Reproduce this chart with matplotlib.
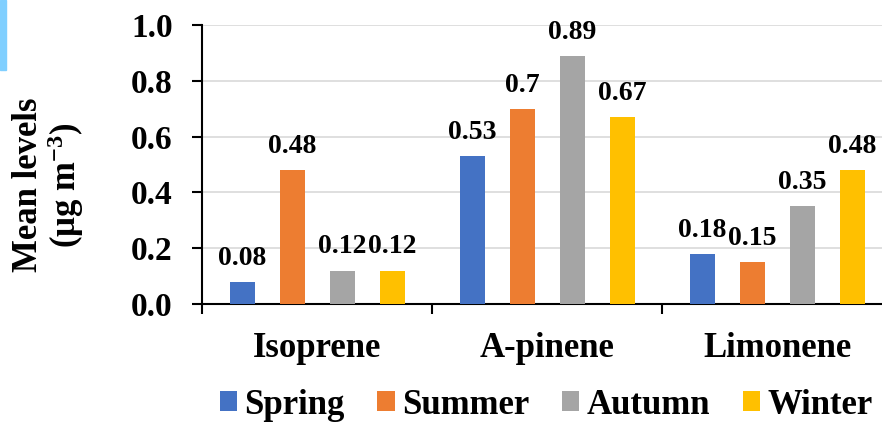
import matplotlib
matplotlib.use("Agg")
import matplotlib.pyplot as plt
import numpy as np
from matplotlib.patches import Rectangle

plt.rcParams['font.family'] = ['Liberation Serif', 'DejaVu Serif']
plt.rcParams['font.weight'] = 'bold'
plt.rcParams['mathtext.fontset'] = 'custom'
plt.rcParams['mathtext.rm'] = 'Liberation Serif:bold'
plt.rcParams['mathtext.default'] = 'rm'

categories = ["Isoprene", "A-pinene", "Limonene"]
seasons = ["Spring", "Summer", "Autumn", "Winter"]
spring = [0.08, 0.53, 0.18]
summer = [0.48, 0.70, 0.15]
autumn = [0.12, 0.89, 0.35]
winter = [0.12, 0.67, 0.48]
value_labels = [["0.08", "0.53", "0.18"], ["0.48", "0.7", "0.15"],
                ["0.12", "0.89", "0.35"], ["0.12", "0.67", "0.48"]]
yticks = [0.0, 0.2, 0.4, 0.6, 0.8, 1.0]
colors = ["#4472C4", "#ED7D31", "#A5A5A5", "#FFC000"]

fig = plt.figure(figsize=(8.82, 4.22), dpi=100)
ax = fig.add_axes([202/882, 118/422, 690/882, 279/422])

x = np.arange(len(categories))
series = [spring, summer, autumn, winter]
step = 50/230
width = 25/230
bars = []
for i, (vals, col) in enumerate(zip(series, colors)):
    off = (i - 1.5) * step
    b = ax.bar(x + off, vals, width, color=col, label=seasons[i], zorder=3)
    bars.append(b)
    for xi, v, lab in zip(x + off, vals, value_labels[i]):
        ax.annotate(lab, (xi, v), xytext=(0, 8), textcoords='offset points',
                    ha='center', va='bottom', fontsize=20, fontweight='bold')

ax.set_xlim(-0.5, 2.5)
ax.set_ylim(0, 1.0)
ax.set_yticks(yticks)
ax.set_yticklabels([f"{t:.1f}" for t in yticks], fontsize=24, fontweight='bold')
ax.yaxis.grid(True, color='#D9D9D9', linewidth=1.2, zorder=0)
ax.set_axisbelow(True)

ax.set_xticks([-0.5, 0.5, 1.5, 2.5])
ax.set_xticklabels([])
ax.set_xticks(x, minor=True)
ax.set_xticklabels(categories, minor=True, fontsize=25, fontweight='bold')
ax.tick_params(axis='x', which='major', length=7, width=1.5, direction='out')
ax.tick_params(axis='x', which='minor', length=0, pad=20)
ax.tick_params(axis='y', length=7, width=1.5, direction='out', pad=14)

for s in ['top', 'right']:
    ax.spines[s].set_visible(False)
ax.spines['left'].set_linewidth(1.5)
ax.spines['bottom'].set_linewidth(1.5)

fig.text(49/882, 1 - 185/422, "Mean levels\n(μg m$^{-3}$)", rotation=90,
         ha='center', va='center', multialignment='center', fontsize=25,
         fontweight='bold', linespacing=1.0)

fig.legend(handles=bars, labels=seasons, loc='center', ncol=4,
           bbox_to_anchor=(546/882, 1 - 405/422), frameon=False,
           prop={'size': 25, 'weight': 'bold'}, handlelength=0.5,
           handleheight=0.5, handletextpad=0.2, columnspacing=0.95,
           borderpad=0, borderaxespad=0)

fig.patches.append(Rectangle((0, 1 - 70/422), 6/882, 70/422,
                             transform=fig.transFigure, color='#80CFFF'))

fig.savefig("out.png", dpi=100)
